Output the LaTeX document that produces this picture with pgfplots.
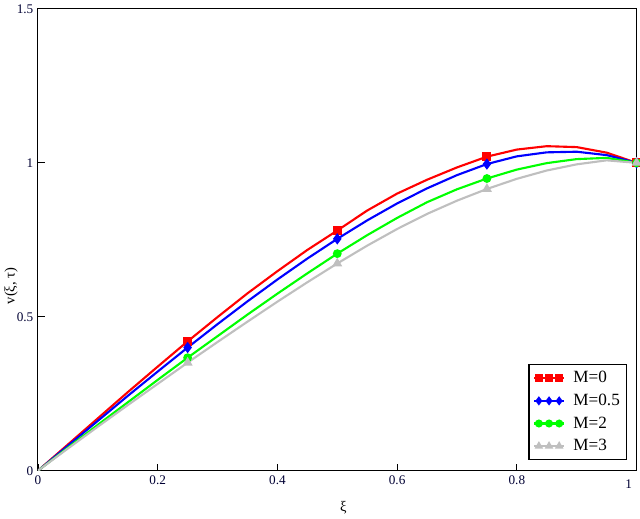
\documentclass[border=0pt]{standalone}
\usepackage{pgfplots}
\pgfplotsset{compat=1.18}
\usepackage{fontspec}
\setmainfont{Liberation Serif}
\begin{document}
\begin{tikzpicture}
\begin{axis}[
  scale only axis,
  width=453pt, height=349.5pt,
  xmin=0, xmax=1, ymin=0, ymax=1.5,
  xtick={0,0.2,0.4,0.6,0.8},
  xticklabels={0,0.2,0.4,0.6,0.8},
  extra x ticks={1},
  extra x tick labels={1},
  extra x tick style={tick label style={xshift=-6pt,yshift=-3pt}},
  ytick={0,0.5,1,1.5},
  yticklabels={0,0.5,1,1.5},
  tick pos=left,
  tick align=inside,
  major tick length=5pt,
  tick style={black, line width=0.6pt},
  axis line style={black, line width=0.8pt},
  tick label style={font=\fontsize{10}{11}\selectfont, text=black!80!blue},
  xlabel={ξ},
  ylabel={v(ξ, τ)},
  xlabel style={font=\fontsize{11}{12}\selectfont, at={(axis description cs:0.51,-0.08)}, anchor=center},
  ylabel style={font=\fontsize{11}{12}\selectfont, at={(axis description cs:-0.045,0.40)}, anchor=center, rotate=0},
  legend style={at={(axis cs:0.984,0.035)}, anchor=south east, draw=black, line width=0.8pt,
    font=\fontsize{13}{14}\selectfont, row sep=3pt, inner sep=3pt},
  legend cell align=left,
  legend image code/.code={
    \draw[#1, mark=none] (0cm,0cm) -- (0.8cm,0cm);
    \draw[#1, mark repeat=1, mark phase=1, mark size=2.2pt] plot coordinates {(0.13cm,0cm) (0.4cm,0cm) (0.67cm,0cm)};
    \path (0.95cm,0cm);},
  every axis plot/.append style={line width=1.6pt, mark repeat=5, mark phase=6},
]
\addplot[red, mark=square*, mark size=2.6pt] coordinates {
(0,0)(0.05,0.085)(0.1,0.170)(0.15,0.255)(0.2,0.338)(0.25,0.420)(0.3,0.499)(0.35,0.576)(0.4,0.648)(0.45,0.717)(0.5,0.780)(0.55,0.845)(0.6,0.900)(0.65,0.945)(0.7,0.985)(0.75,1.020)(0.8,1.043)(0.85,1.054)(0.9,1.051)(0.95,1.033)(1,1.0)};
\addlegendentry{M=0}
\addplot[blue, mark=diamond*, mark size=3pt] coordinates {
(0,0)(0.05,0.081)(0.1,0.162)(0.15,0.243)(0.2,0.322)(0.25,0.400)(0.3,0.476)(0.35,0.550)(0.4,0.621)(0.45,0.689)(0.5,0.753)(0.55,0.813)(0.6,0.868)(0.65,0.917)(0.7,0.960)(0.75,0.996)(0.8,1.021)(0.85,1.034)(0.9,1.036)(0.95,1.025)(1,1.0)};
\addlegendentry{M=0.5}
\addplot[green, mark=*, mark size=2.5pt] coordinates {
(0,0)(0.05,0.075)(0.1,0.149)(0.15,0.222)(0.2,0.295)(0.25,0.367)(0.3,0.437)(0.35,0.507)(0.4,0.575)(0.45,0.641)(0.5,0.705)(0.55,0.765)(0.6,0.821)(0.65,0.872)(0.7,0.914)(0.75,0.949)(0.8,0.978)(0.85,0.999)(0.9,1.012)(0.95,1.016)(1,1.0)};
\addlegendentry{M=2}
\addplot[black!25, mark=triangle*, mark size=2.8pt] coordinates {
(0,0)(0.05,0.072)(0.1,0.143)(0.15,0.213)(0.2,0.282)(0.25,0.351)(0.3,0.418)(0.35,0.484)(0.4,0.549)(0.45,0.612)(0.5,0.673)(0.55,0.731)(0.6,0.785)(0.65,0.834)(0.7,0.877)(0.75,0.915)(0.8,0.948)(0.85,0.975)(0.9,0.995)(0.95,1.008)(1,1.0)};
\addlegendentry{M=3}
\end{axis}
\end{tikzpicture}
\end{document}
